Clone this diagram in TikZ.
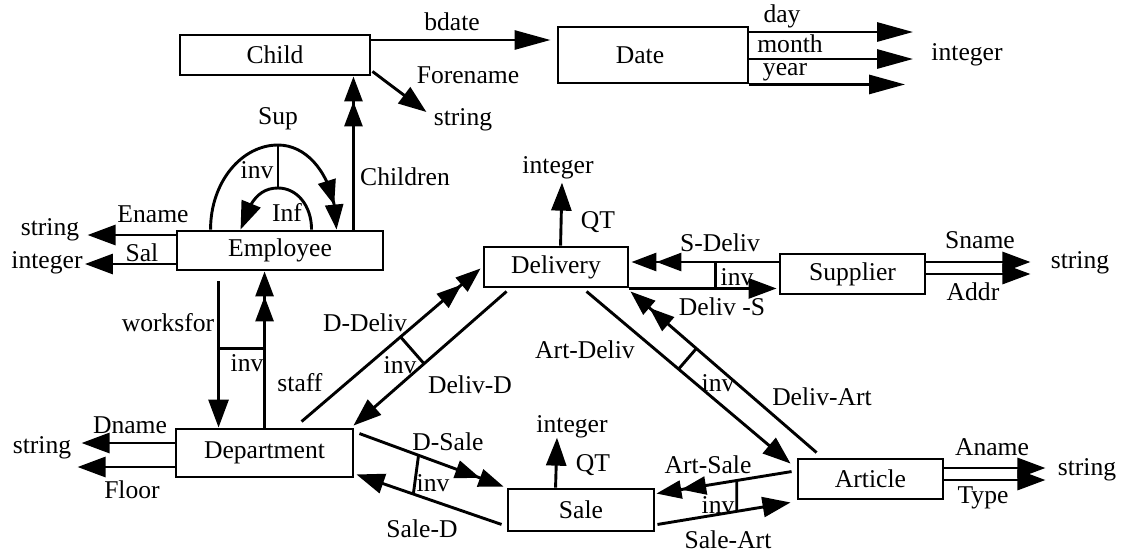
\documentclass[tikz,border=0pt]{standalone}
\usepackage{fontspec}
\setmainfont{Liberation Serif}
\usetikzlibrary{arrows.meta,calc,bending}
\begin{document}
\begin{tikzpicture}[x=0.5pt,y=-0.5pt,
  font=\fontsize{12.8}{15}\selectfont,
  ln/.style={line width=1.45pt},
  box/.style={draw,line width=1.45pt,inner sep=0pt},
  lbl/.style={inner sep=1pt},
  arr/.style={ln,-{Triangle[length=14pt,width=10pt]}},
  arrl/.style={ln,-{Triangle[length=18pt,width=9.5pt]}},
  arrs/.style={ln,-{Triangle[length=12.5pt,width=9pt]Triangle[length=12.5pt,width=9pt]}},
]
\useasboundingbox (0,0) rectangle (1123,553);

% entity boxes
\node[box,minimum width=95pt,minimum height=20pt]   (Child)      at (275,55)    {Child};
\node[box,minimum width=95pt,minimum height=28pt]   (Date)       at (653,55)    {Date\rule{13pt}{0pt}};
\node[box,minimum width=103pt,minimum height=19.5pt](Employee)   at (280,250.5) {Employee};
\node[box,minimum width=88.5pt,minimum height=24pt] (Department) at (264.5,453) {Department};
\node[box,minimum width=72pt,minimum height=20pt]   (Delivery)   at (556,267)   {Delivery};
\node[box,minimum width=72.5pt,minimum height=20pt] (Supplier)   at (852.5,274) {Supplier};
\node[box,minimum width=73pt,minimum height=21pt]   (Sale)       at (581,510)   {Sale};
\node[box,minimum width=72.5pt,minimum height=20pt] (Article)    at (870.5,479) {Article};

% value types
\node[lbl] (sC)  at (463,120)  {string};
\node[lbl] (iD)  at (967,55)   {integer};
\node[lbl] (sE)  at (50,230)   {string};
\node[lbl] (iE)  at (47,263)   {integer};
\node[lbl] (sD)  at (42,448)   {string};
\node[lbl] (iDl) at (558,168)  {integer};
\node[lbl] (sS)  at (1080,263) {string};
\node[lbl] (iS)  at (572,427)  {integer};
\node[lbl] (sA)  at (1087,470) {string};

% attribute and link names
\node[lbl] (tBdate)  at (452,22)  {bdate};
\node[lbl] (tFore)   at (468,75)  {Forename};
\node[lbl] (tDay)    at (782,16)  {day};
\node[lbl] (tMonth)  at (790,44)  {month};
\node[lbl] (tYear)   at (785,72)  {year};
\node[lbl] (tSup)    at (278,119) {Sup};
\node[lbl] (tInv1)   at (257,170) {inv};
\node[lbl] (tInf)    at (287,212) {Inf};
\node[lbl] (tChild)  at (405,177) {Children};
\node[lbl] (tEname)  at (153,214) {Ename};
\node[lbl] (tSal)    at (142,253) {Sal};
\node[lbl] (tWorks)  at (168,323) {worksfor};
\node[lbl] (tInv2)   at (247,363) {inv};
\node[lbl] (tStaff)  at (300,383) {staff};
\node[lbl] (tDDeliv) at (365,323) {D-Deliv};
\node[lbl] (tInv3)   at (400,365) {inv};
\node[lbl] (tDelivD) at (470,385) {Deliv-D};
\node[lbl] (tDname)  at (130,425) {Dname};
\node[lbl] (tFloor)  at (132,490) {Floor};
\node[lbl] (tQT1)    at (598,222) {QT};
\node[lbl] (tSDeliv) at (720,243) {S-Deliv};
\node[lbl] (tInv4)   at (737,277) {inv};
\node[lbl] (tDelivS) at (722,307) {Deliv -S};
\node[lbl] (tSname)  at (980,240) {Sname};
\node[lbl] (tAddr)   at (973,292) {Addr};
\node[lbl] (tArtDel) at (585,350) {Art-Deliv};
\node[lbl] (tInv5)   at (718,383) {inv};
\node[lbl] (tDelArt) at (822,397) {Deliv-Art};
\node[lbl] (tQT2)    at (593,465) {QT};
\node[lbl] (tDSale)  at (448,442) {D-Sale};
\node[lbl] (tInv6)   at (433,483) {inv};
\node[lbl] (tSaleD)  at (422,529) {Sale-D};
\node[lbl] (tArtSal) at (708,465) {Art-Sale};
\node[lbl] (tInv7)   at (718,505) {inv};
\node[lbl] (tSalArt) at (728,540) {Sale-Art};
\node[lbl] (tAname)  at (992,447) {Aname};
\node[lbl] (tType)   at (983,498) {Type};

% Child and Date
\draw[arrl] (Child.east |- 0,40) -- ($(Date.west |- 0,40)+(-6,0)$);
\draw[arr] ($(Child.south east)+(1,-5)$) -- ($(sC.west)+(-5,-8)$);
\draw[arrl] (Date.east |- 0,32) -- ($(iD.west |- 0,32)+(-16,0)$);
\draw[arrl] (Date.east |- 0,59) -- ($(iD.west |- 0,59)+(-16,0)$);
\draw[arrl] (Date.south east) -- ($(iD.west |- Date.south)+(-24,0)$);

% Employee attributes and children
\draw[arr] (Employee.west |- 0,235) -- ($(sE.east |- 0,235)+(6,0)$);
\draw[arr] (Employee.west |- 0,264) -- (iE.east |- 0,264);
\draw[arrs] ($(Employee.north east)+(-31,0)$) -- ($(Child.south east)+(-18,0)$);

% Sup / Inf self links
\coordinate (supTop) at (278,145);
\coordinate (infTop) at (278,188);
\draw[arrs] ($(Employee.north west)+(35,0)$) .. controls +(0,-48) and +(-36,0) .. (supTop)
            .. controls +(33,0) and +(0,-48) .. ($(Employee.north west)+(161,0)$);
\draw[arr] ($(Employee.north west)+(136,0)$) .. controls +(0,-24) and +(19,0) .. (infTop)
           .. controls +(-20,0) and +(8,-26) .. ($(Employee.north west)+(65,0)$);
\draw[ln] (supTop) -- (infTop);

% Employee - Department
\draw[arr] ($(Employee.south west)+(43,10)$) -- ($(Department.north west)+(44,0)$);
\draw[arrs] ($(Department.north west)+(90,0)$) -- ($(Employee.south west)+(89,0)$);
\draw[ln] ($(Employee.south west)+(43,77)$) -- ($(Employee.south west)+(89,77)$);

% Department attributes
\draw[arr] (Department.west |- 0,443) -- ($(sD.east |- 0,443)+(8,0)$);
\draw[arr] (Department.west |- 0,467) -- ($(sD.east |- 0,467)+(4,0)$);

% Department - Delivery
\coordinate (dd1) at ($(Department.north west)+(127,-6)$);
\coordinate (dd2) at ($(Delivery.south west)+(-2,-20)$);
\coordinate (dv1) at ($(Delivery.south west)+(24,3)$);
\coordinate (dv2) at ($(Department.north east)+(-1,-2)$);
\draw[arrs] (dd1) -- (dd2);
\draw[arr] (dv1) -- (dv2);
\coordinate (x1) at ($(dd1)!0.553!(dd2)$);
\draw[ln] (x1) -- ($(dv1)!(x1)!(dv2)$);

% Delivery quantity and Supplier
\draw[arr] ($(Delivery.north west)+(78,0)$) -- ($(iDl.south)+(4,1)$);
\draw[arrs] (Supplier.west |- 0,262) -- ($(Delivery.east |- 0,262)+(2,0)$);
\draw[arr] (Delivery.south east) -- ($(Supplier.west |- Delivery.south)+(-2,0)$);
\draw[ln] ($(Delivery.east |- 0,262)+(86,0)$) -- ($(Delivery.south east)+(86,0)$);
\draw[arr] (Supplier.east |- 0,262) -- ($(sS.west |- 0,262)+(-18,0)$);
\draw[arr] (Supplier.east |- 0,274) -- ($(sS.west |- 0,274)+(-18,0)$);

% Delivery - Article
\coordinate (ad1) at ($(Delivery.south west)+(104,3)$);
\coordinate (ad2) at ($(Article.north west)+(-6,6)$);
\coordinate (da1) at ($(Article.north west)+(20,-5)$);
\coordinate (da2) at ($(Delivery.south east)+(1,3)$);
\draw[arr] (ad1) -- (ad2);
\draw[arrs] (da1) -- (da2);
\coordinate (x2) at ($(ad1)!0.451!(ad2)$);
\draw[ln] (x2) -- ($(da1)!(x2)!(da2)$);

% Article attributes
\draw[arr] (Article.east |- 0,468) -- ($(sA.west |- 0,468)+(-10,0)$);
\draw[arr] (Article.east |- 0,480) -- ($(sA.west |- 0,480)+(-10,0)$);

% Department - Sale
\coordinate (ds1) at ($(Department.north east)+(5,6)$);
\coordinate (ds2) at ($(Sale.north west)+(-3,-1)$);
\coordinate (sd1) at ($(Sale.south west)+(-5,-8)$);
\coordinate (sd2) at ($(Department.south east)+(2,-4)$);
\draw[arrs] (ds1) -- (ds2);
\draw[arr] (sd1) -- (sd2);
\draw[ln] ($(ds1)!0.41!(ds2)$) -- ($(sd1)!0.608!(sd2)$);

% Sale quantity
\draw[arr] ($(Sale.north west)+(49,0)$) -- ($(iS.south)+(-15,-3)$);

% Sale - Article
\coordinate (as1) at ($(Article.north west)+(-5,14)$);
\coordinate (as2) at ($(Sale.north east)+(1,6)$);
\coordinate (sa1) at ($(Sale.south east)+(2,-8)$);
\coordinate (sa2) at ($(Article.south west)+(-6,2)$);
\draw[arrs] (as1) -- (as2);
\draw[arr] (sa1) -- (sa2);
\draw[ln] ($(as1)!0.406!(as2)$) -- ($(sa1)!0.596!(sa2)$);
\end{tikzpicture}
\end{document}
